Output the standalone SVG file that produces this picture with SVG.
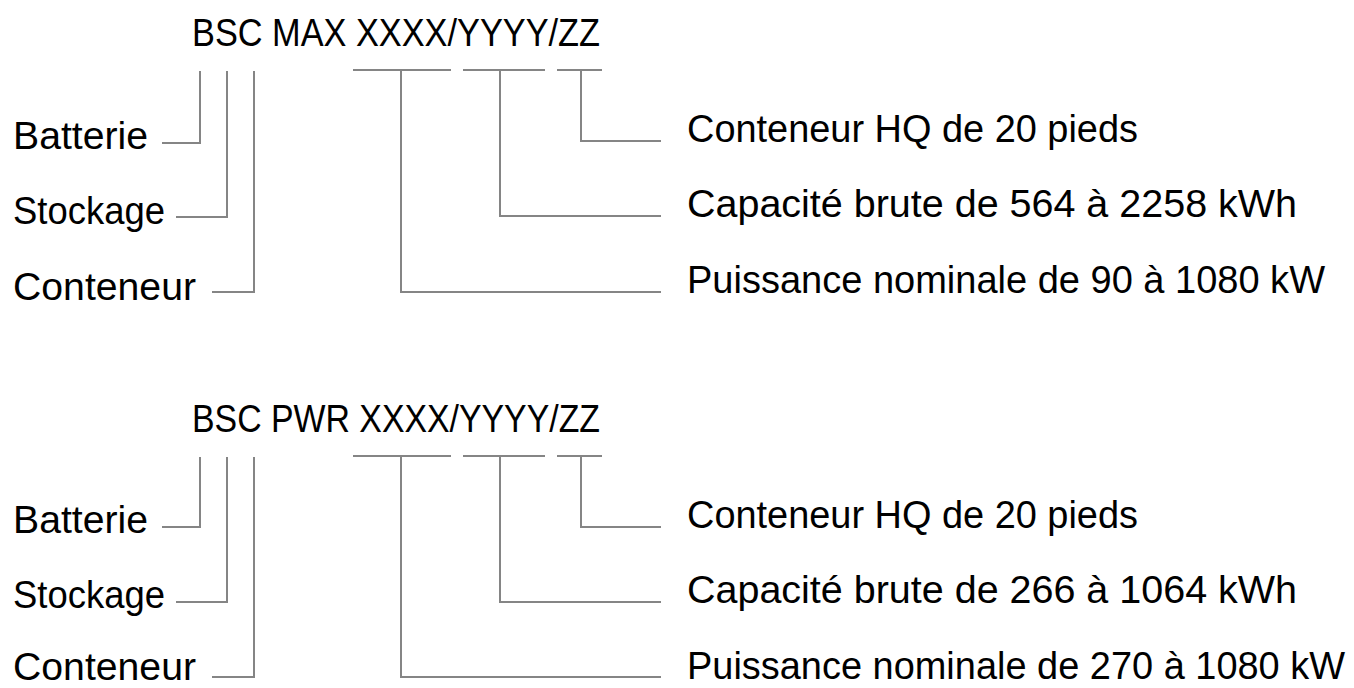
<svg xmlns="http://www.w3.org/2000/svg" width="1354" height="688" viewBox="0 0 1354 688">
<style>
text{font-family:"Liberation Sans",Arial,sans-serif;font-size:38px;fill:#000}
.c{fill:none;stroke:#858585;stroke-width:2}
</style>
<rect width="1354" height="688" fill="#fff"/>
<g id="connectors">
<path class="c" d="M162,143H200V71M176,217H227V71M212,292H254V71"/>
<path class="c" d="M353,70H451M463,70H545M557,70H602"/>
<path class="c" d="M401,70V292H661M500,70V216H661M581,70V141H661"/>
<path class="c" d="M162,527H200V457M176,602H227V457M212,677H254V457"/>
<path class="c" d="M353,456H451M463,456H545M557,456H602"/>
<path class="c" d="M401,456V677H661M500,456V602H661M581,456V527H661"/>
</g>
<g id="title1"><text x="192" y="46" textLength="408" lengthAdjust="spacingAndGlyphs">BSC MAX XXXX/YYYY/ZZ</text></g>
<g id="batterie1"><text x="13" y="149" textLength="135" lengthAdjust="spacingAndGlyphs">Batterie</text></g>
<g id="stockage1"><text x="13" y="224" textLength="152" lengthAdjust="spacingAndGlyphs">Stockage</text></g>
<g id="conteneur1"><text x="13" y="300" textLength="183" lengthAdjust="spacingAndGlyphs">Conteneur</text></g>
<g id="hq1"><text x="687" y="142" textLength="451" lengthAdjust="spacingAndGlyphs">Conteneur HQ de 20 pieds</text></g>
<g id="cap1"><text x="687" y="217" textLength="610" lengthAdjust="spacingAndGlyphs">Capacité brute de 564 à 2258 kWh</text></g>
<g id="pui1"><text x="687" y="293" textLength="638" lengthAdjust="spacingAndGlyphs">Puissance nominale de 90 à 1080 kW</text></g>
<g id="title2"><text x="192" y="432" textLength="408" lengthAdjust="spacingAndGlyphs">BSC PWR XXXX/YYYY/ZZ</text></g>
<g id="batterie2"><text x="13" y="533" textLength="135" lengthAdjust="spacingAndGlyphs">Batterie</text></g>
<g id="stockage2"><text x="13" y="608" textLength="152" lengthAdjust="spacingAndGlyphs">Stockage</text></g>
<g id="conteneur2"><text x="13" y="680" textLength="183" lengthAdjust="spacingAndGlyphs">Conteneur</text></g>
<g id="hq2"><text x="687" y="528" textLength="451" lengthAdjust="spacingAndGlyphs">Conteneur HQ de 20 pieds</text></g>
<g id="cap2"><text x="687" y="603" textLength="610" lengthAdjust="spacingAndGlyphs">Capacité brute de 266 à 1064 kWh</text></g>
<g id="pui2"><text x="687" y="679" textLength="658" lengthAdjust="spacingAndGlyphs">Puissance nominale de 270 à 1080 kW</text></g>
</svg>
